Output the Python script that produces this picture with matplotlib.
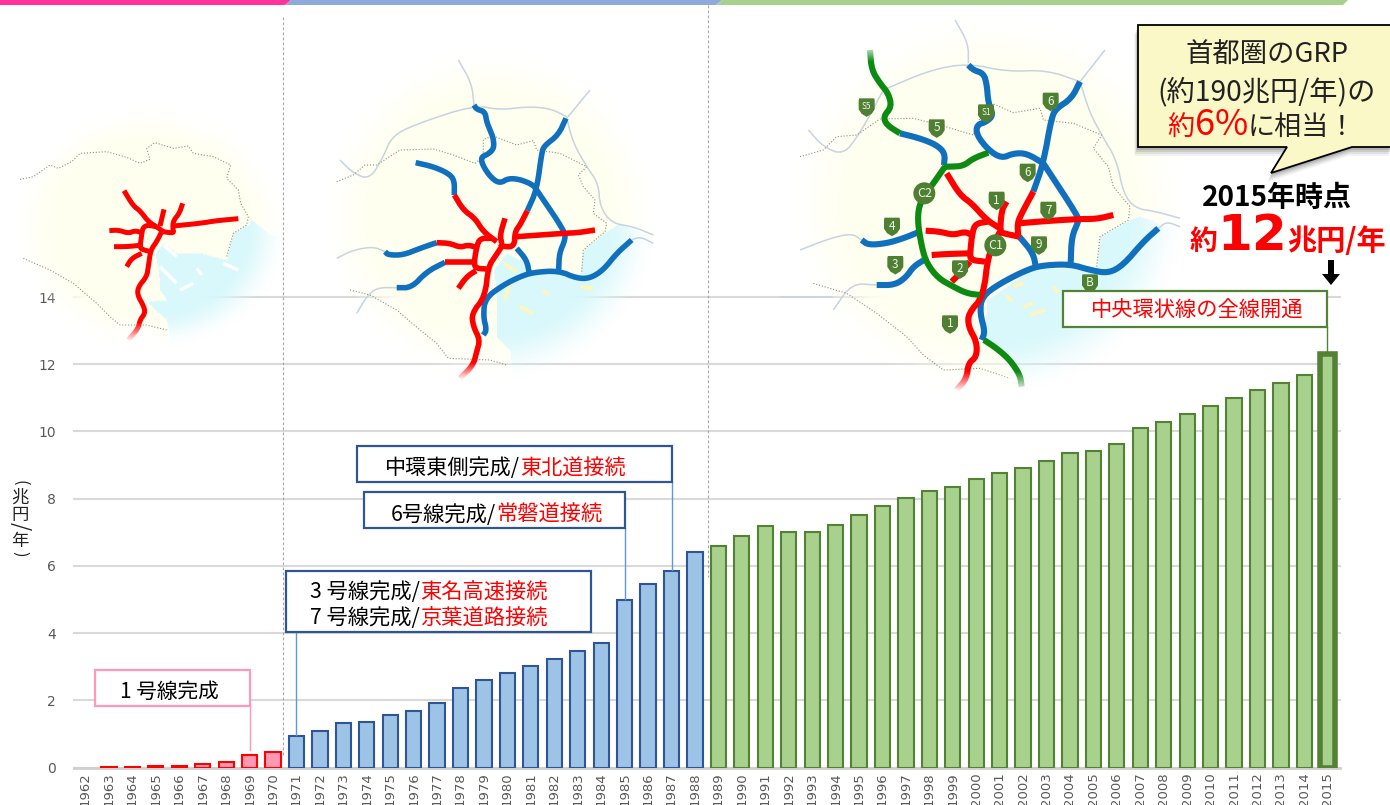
import numpy as np
import matplotlib
matplotlib.use("Agg")
import matplotlib.pyplot as plt
from matplotlib.patches import Polygon, Rectangle, Circle
from matplotlib.path import Path

plt.rcParams['font.family'] = ['Noto Sans CJK JP', 'DejaVu Sans']

# Chart values (trillion yen per year)
years = list(range(1962, 2016))
toll_revenue = [0.00, 0.02, 0.02, 0.03, 0.03, 0.10, 0.16, 0.38, 0.46,
                0.93, 1.10, 1.33, 1.36, 1.55, 1.69, 1.91, 2.38, 2.61, 2.82, 3.01, 3.24, 3.47, 3.69,
                4.98, 5.47, 5.85, 6.42,
                6.58, 6.88, 7.18, 7.02, 7.00, 7.23, 7.50, 7.78, 8.01, 8.23, 8.35, 8.58, 8.76, 8.92,
                9.13, 9.36, 9.41, 9.63, 10.10, 10.28, 10.52, 10.76, 10.98, 11.22, 11.45, 11.68, 12.30]
y_ticks = [0, 2, 4, 6, 8, 10, 12, 14]

PINK_FILL, PINK_EDGE = '#ff99b3', '#ff0000'
BLUE_FILL, BLUE_EDGE = '#9dc3e6', '#2f5597'
GREEN_FILL, GREEN_EDGE = '#a9d18e', '#548235'
RED, BLUE, GREEN = '#ff0000', '#1070bd', '#0c8a12'
ROAD_GREY, BORDER_GREY = '#c6d4e0', '#8f8f80'
LAND, SEA = np.array([1.0, 1.0, 0.945]), np.array([0.85, 0.975, 0.985])

# --- Map 1: first stage network
m1_origin = (0, 120)
m1_red = [
    [(372, 212), (400, 258), (420, 272), (445, 305), (472, 322), (490, 335)],
    [(492, 268), (480, 318)],
    [(548, 250), (538, 280), (520, 302), (518, 325), (522, 340), (490, 335)],
    [(520, 318), (600, 310), (650, 302), (715, 296)],
    [(470, 320), (440, 315), (428, 325), (425, 345), (420, 380), (425, 388), (452, 395)],
    [(485, 335), (470, 365), (452, 390), (445, 440), (440, 470), (415, 500), (412, 525),
     (432, 560), (435, 580), (420, 600), (415, 625), (385, 660)],
    [(328, 332), (355, 330), (385, 340), (405, 332), (425, 338)],
    [(342, 380), (380, 380), (420, 376)],
    [(380, 440), (395, 415), (425, 400)],
]
m1_border = [
    [(60, 178), (100, 170), (150, 135), (175, 145), (215, 125), (240, 100), (320, 95),
     (380, 112), (420, 130), (450, 118), (440, 85), (465, 68), (520, 85), (565, 78),
     (580, 100), (640, 110), (692, 135), (680, 175), (715, 210), (722, 250), (745, 290),
     (740, 315), (700, 340), (690, 375), (680, 410)],
    [(70, 415), (150, 450), (220, 490), (290, 550), (330, 590), (360, 615), (440, 615), (500, 630)],
]
m1_sea = [(755, 300), (810, 345), (880, 360), (880, 700), (520, 700), (500, 600), (440, 545),
          (500, 540), (480, 510), (475, 450), (465, 400), (490, 370), (530, 400), (600, 400),
          (680, 420), (690, 375), (700, 340), (745, 315)]
m1_islands = [[(490, 375), (530, 410)], [(480, 440), (530, 490)], [(540, 510), (580, 490)],
              [(590, 445), (605, 465)], [(670, 430), (715, 450)]]

# --- Map 2: network up to the late 1980s
m2_origin = (320, 50)
m2_blue = [
    [(462, 165), (470, 178), (495, 185), (500, 215), (510, 240), (520, 265), (522, 295),
     (505, 312), (482, 322), (490, 350), (515, 385), (540, 400), (565, 385), (600, 388),
     (640, 405), (650, 420)],
    [(738, 205), (715, 255), (672, 288), (665, 310), (650, 420), (622, 482)],
    [(650, 420), (735, 545), (735, 570), (718, 610), (716, 660)],
    [(287, 338), (340, 350), (385, 370), (403, 390), (403, 435)],
    [(195, 605), (205, 615), (250, 615), (300, 595), (350, 578)],
    [(230, 713), (275, 713), (320, 665), (375, 637)],
    [(490, 855), (500, 840), (490, 800), (495, 745), (550, 705), (600, 680), (640, 667),
     (716, 662), (770, 685), (810, 685), (850, 660), (890, 610), (935, 570)],
    [(590, 595), (620, 630), (628, 670)],
]
m2_red = [
    [(403, 435), (430, 480), (465, 505), (490, 545), (530, 575)],
    [(555, 505), (540, 555), (545, 580)],
    [(622, 482), (600, 525), (585, 545), (583, 590), (550, 590), (540, 580)],
    [(590, 560), (730, 550), (775, 548), (825, 540)],
    [(515, 565), (480, 565), (470, 590), (462, 640), (468, 655), (500, 657)],
    [(545, 590), (525, 620), (505, 650), (495, 740), (455, 790), (460, 830), (480, 870),
     (470, 905), (460, 945), (420, 985)],
    [(350, 578), (390, 580), (420, 592), (445, 585), (468, 592)],
    [(375, 637), (462, 637)],
    [(415, 715), (440, 680), (468, 662)],
]
m2_roads = [
    [(50, 625), (100, 600), (160, 590), (195, 605)],
    [(60, 330), (100, 370), (150, 388), (190, 320), (215, 260), (280, 225), (462, 165),
     (540, 180), (620, 170), (690, 175), (740, 200)],
    [(415, 30), (455, 100), (462, 165)],
    [(740, 205), (810, 120)],
    [(740, 205), (760, 280), (800, 350), (835, 400), (840, 470), (875, 520), (940, 530), (1000, 555)],
    [(935, 570), (960, 560), (1000, 580)],
    [(230, 713), (170, 713), (140, 740), (110, 790)],
]
m2_border = [
    [(50, 395), (100, 375), (135, 345), (170, 345), (240, 300), (340, 297), (400, 315),
     (465, 340), (490, 320), (490, 268), (520, 258), (590, 285), (640, 272), (650, 300),
     (720, 310), (800, 350), (775, 375), (790, 410), (825, 450), (820, 490), (860, 520),
     (855, 545), (790, 600), (785, 670)],
    [(90, 720), (150, 735), (230, 780), (300, 840), (350, 880), (385, 925), (510, 930), (560, 945)],
]
m2_sea = [(860, 545), (900, 520), (1030, 580), (1030, 1000), (580, 1000), (570, 900), (530, 860),
          (530, 720), (520, 660), (560, 610), (600, 630), (640, 670), (780, 670), (790, 600)]
m2_islands = [[(550, 640), (590, 665)], [(570, 700), (555, 750)], [(600, 770), (640, 790)],
              [(670, 720), (685, 735)], [(780, 710), (820, 715)]]

# --- Map 3: network as of 2015
m3_origin = (780, 20)
m3_blue = [
    [(565, 135), (580, 150), (610, 160), (620, 190), (625, 250), (640, 285), (620, 305),
     (590, 315), (590, 345), (625, 390), (665, 415), (700, 400), (740, 400), (790, 430)],
    [(900, 185), (875, 235), (830, 265), (815, 290), (790, 430), (760, 515)],
    [(790, 430), (895, 590), (895, 605), (875, 650), (872, 730)],
    [(360, 340), (420, 355), (470, 375), (495, 400), (492, 435)],
    [(245, 660), (265, 675), (320, 670), (370, 655), (412, 638)],
    [(290, 795), (345, 795), (380, 770), (400, 740), (435, 718)],
    [(605, 960), (615, 935), (600, 880), (605, 830), (660, 790), (750, 745), (800, 735),
     (872, 733), (930, 750), (985, 760), (1030, 735), (1090, 665), (1135, 625)],
    [(718, 650), (760, 700), (768, 745)],
]
m3_green = [
    [(270, 90), (275, 150), (300, 190), (325, 220), (335, 260), (310, 290), (320, 315), (360, 340)],
    [(625, 398), (580, 415), (550, 438), (510, 440), (490, 440)],
    [(495, 440), (460, 490), (420, 545), (412, 600), (425, 680), (440, 730), (475, 775),
     (520, 800), (560, 820), (600, 825)],
    [(612, 960), (650, 985), (690, 1020), (720, 1065), (725, 1100)],
]
m3_red = [
    [(500, 460), (540, 525), (575, 550), (620, 600), (660, 625)],
    [(680, 545), (665, 570), (660, 635), (670, 640), (718, 650)],
    [(760, 515), (725, 580), (712, 610), (715, 650)],
    [(715, 610), (800, 603), (895, 597), (950, 597), (1000, 585)],
    [(625, 605), (590, 610), (578, 630), (570, 700), (572, 720), (615, 725)],
    [(660, 635), (625, 700), (610, 830), (565, 880), (565, 920), (590, 965), (590, 1010),
     (565, 1030), (560, 1075), (530, 1110)],
    [(437, 632), (480, 635), (520, 645), (555, 635), (575, 645)],
    [(455, 705), (500, 702), (570, 700)],
    [(515, 785), (540, 760), (570, 725)],
]
m3_roads = [
    [(525, 0), (565, 70), (565, 130)],
    [(0, 830), (160, 830)],
    [(310, 210), (450, 150), (565, 130), (680, 155), (800, 150), (900, 185)],
    [(900, 185), (975, 90)],
    [(900, 185), (930, 280), (965, 345), (1010, 420), (1030, 520), (1065, 565), (1130, 575), (1200, 595)],
    [(1135, 625), (1160, 605), (1200, 620)],
    [(60, 690), (150, 655), (215, 640), (245, 660)],
    [(85, 330), (130, 380), (190, 405), (240, 340), (310, 210)],
    [(290, 795), (215, 790), (160, 870)],
]
m3_border = [
    [(60, 410), (130, 390), (170, 350), (230, 345), (300, 297), (400, 295), (480, 315),
     (580, 345), (590, 315), (625, 245), (700, 278), (780, 265), (790, 300), (880, 310),
     (965, 345), (940, 385), (985, 440), (1000, 500), (1050, 560), (1045, 600), (960, 650), (950, 740)],
    [(100, 790), (200, 820), (290, 880), (380, 950), (430, 1005), (490, 1050), (600, 1045), (690, 1075)],
]
m3_sea = [(1050, 600), (1080, 590), (1220, 640), (1220, 1120), (730, 1120), (660, 980), (615, 960),
          (620, 840), (760, 745), (950, 745), (960, 650)]
m3_islands = [[(680, 825), (695, 845)], [(730, 860), (760, 850)], [(750, 885), (795, 870)],
              [(820, 800), (835, 820)], [(700, 800), (730, 790)]]
m3_shields = [('S5', 260, 262), ('5', 470, 325), ('S1', 618, 280), ('6', 812, 245), ('6', 743, 458),
              ('1', 650, 542), ('7', 805, 572), ('4', 336, 620), ('3', 346, 735), ('2', 540, 748),
              ('9', 777, 676), ('1', 510, 913), ('B', 930, 790)]
m3_circles = [('C2', 433, 520), ('C1', 646, 676)]


def zoomed(points, origin):
    # route coordinates are stored at 3x, relative to the map origin
    return [(origin[0] + x / 3, origin[1] + y / 3) for x, y in points]


def smooth(points, passes=2):
    # Chaikin corner cutting, keeps both end points
    pts = np.array(points, dtype=float)
    for _ in range(passes):
        q = pts[:-1] * 0.75 + pts[1:] * 0.25
        r = pts[:-1] * 0.25 + pts[1:] * 0.75
        mid = np.empty((len(q) * 2, 2))
        mid[0::2] = q
        mid[1::2] = r
        pts = np.vstack([pts[:1], mid, pts[-1:]])
    return pts


def draw_routes(ax, routes, origin, color, lw, z=4):
    for route in routes:
        pts = smooth(zoomed(route, origin))
        ax.plot(pts[:, 0], pts[:, 1], color=color, lw=lw, solid_capstyle='butt',
                solid_joinstyle='round', zorder=z)


def draw_backdrop(ax, cx, cy, rx, ry, sea, origin):
    # pale land with soft edge, sea polygon cut in
    xs = np.arange(cx - rx, cx + rx, 1.0)
    ys = np.arange(cy - ry, cy + ry, 1.0)
    gx, gy = np.meshgrid(xs, ys)
    r = np.sqrt(((gx - cx) / rx) ** 2 + ((gy - cy) / ry) ** 2)
    alpha = np.clip((1 - r) / 0.32, 0, 1)
    alpha = alpha * alpha * (3 - 2 * alpha)
    inside = Path(zoomed(sea, origin)).contains_points(np.c_[gx.ravel(), gy.ravel()]).reshape(gx.shape)
    rgba = np.zeros(gx.shape + (4,))
    rgba[..., :3] = LAND
    rgba[inside, :3] = SEA
    rgba[..., 3] = alpha
    ax.imshow(rgba, extent=(xs[0], xs[-1] + 1, ys[-1] + 1, ys[0]), aspect='auto',
              interpolation='bilinear', zorder=2)


def tip_fade(ax, x0, x1, y0, y1):
    # white ramp over the road ends at the map edge; y0 is transparent, y1 is opaque
    n = 32
    rgba = np.ones((n, 2, 4))
    rgba[..., 3] = np.linspace(0, 1, n)[:, None]
    ax.imshow(rgba, extent=(x0, x1, y1, y0), aspect='auto', interpolation='bilinear', zorder=5)


def run_text(ax, x, y, parts, fig, center=False):
    # consecutive pieces on one baseline, each with its own colour, size, weight and family
    renderer = fig.canvas.get_renderer()
    items = []
    width = 0
    for part in parts:
        s, color, size = part[:3]
        weight = part[3] if len(part) > 3 else 'normal'
        family = part[4] if len(part) > 4 else plt.rcParams['font.family']
        t = ax.text(x, y, s, color=color, fontsize=size, fontweight=weight, family=family,
                    va='baseline', ha='left', zorder=12)
        w = t.get_window_extent(renderer).width
        items.append((t, width))
        width += w
    start = x - width / 2 if center else x
    for t, off in items:
        t.set_x(start + off)


def label_box(ax, x0, y0, x1, y1, edge, lw=1.6):
    ax.add_patch(Rectangle((x0, y0), x1 - x0, y1 - y0, facecolor='white', edgecolor=edge,
                           lw=lw, zorder=10))


fig = plt.figure(figsize=(13.9, 8.05), dpi=100)

# --- Bar chart, placed so that 0 and 14 land on their grid rows
ax = fig.add_axes([74 / 1390, (805 - 767.5) / 805, 1266 / 1390, 470.5 / 805])
fills = [PINK_FILL] * 9 + [BLUE_FILL] * 18 + [GREEN_FILL] * 27
edges = [PINK_EDGE] * 9 + [BLUE_EDGE] * 18 + [GREEN_EDGE] * 27
widths = [0] + [1.5] * 52 + [4.0]
ax.bar(years, toll_revenue, width=0.65, color=fills, edgecolor=edges, linewidth=widths, zorder=3)
ax.set_xlim(1961.51, 2015.52)
ax.set_ylim(0, 14)
ax.set_yticks(y_ticks)
ax.set_xticks(years)
ax.set_xticklabels([str(y) for y in years], rotation=90, color='#595959', fontsize=9.5,
                   family='DejaVu Sans')
for tick in ax.get_yticklabels():
    tick.set_family('DejaVu Sans')
ax.tick_params(axis='both', length=0)
ax.tick_params(axis='x', pad=3.5)
ax.tick_params(axis='y', labelcolor='#595959', labelsize=10, pad=13)
ax.grid(axis='y', color='#d9d9d9', lw=1.5, zorder=0, clip_on=False)
for name in ['top', 'right', 'left']:
    ax.spines[name].set_visible(False)
ax.spines['bottom'].set_color('#d0d0d0')
ax.spines['bottom'].set_linewidth(2)

# --- Everything else is laid out in pixel coordinates on a transparent overlay
ov = fig.add_axes([0, 0, 1, 1], zorder=5)
ov.patch.set_alpha(0)
ov.axis('off')

# period bands along the top edge
ov.add_patch(Polygon([(0, 0), (291, 0), (285, 5), (0, 5)], color='#ff3399', lw=0))
ov.add_patch(Polygon([(285, 5), (291, 0), (722, 0), (716, 5)], color='#8eaadb', lw=0))
ov.add_patch(Polygon([(716, 5), (722, 0), (1348, 0), (1343, 5)], color='#a9d18e', lw=0))

# period separators
ov.plot([283, 283], [17, 757], color='#a6a6a6', lw=0.8, ls=(0, (2.5, 2)), zorder=1)
ov.plot([708, 708], [5, 577], color='#a6a6a6', lw=0.8, ls=(0, (2.5, 2)), zorder=1)

# map 1
draw_backdrop(ov, 150, 228, 137, 122, m1_sea, m1_origin)
for b in m1_border:
    p = zoomed(b, m1_origin)
    ov.plot(*zip(*p), color=BORDER_GREY, lw=0.8, ls=':', zorder=3)
draw_routes(ov, m1_islands, m1_origin, 'white', 2.5, z=3)
draw_routes(ov, m1_red, m1_origin, RED, 3.6)
tip_fade(ov, 118, 150, 322, 342)

# map 2
draw_backdrop(ov, 490, 215, 168, 168, m2_sea, m2_origin)
draw_routes(ov, m2_roads, m2_origin, ROAD_GREY, 1.1, z=3)
for b in m2_border:
    p = zoomed(b, m2_origin)
    ov.plot(*zip(*p), color=BORDER_GREY, lw=0.8, ls=':', zorder=3)
draw_routes(ov, m2_islands, m2_origin, '#fbf7c4', 3, z=3)
draw_routes(ov, m2_blue, m2_origin, BLUE, 4)
draw_routes(ov, m2_red, m2_origin, RED, 4, z=5)
tip_fade(ov, 452, 490, 362, 380)

# map 3
draw_backdrop(ov, 988, 205, 200, 192, m3_sea, m3_origin)
draw_routes(ov, m3_roads, m3_origin, ROAD_GREY, 1.1, z=3)
for b in m3_border:
    p = zoomed(b, m3_origin)
    ov.plot(*zip(*p), color=BORDER_GREY, lw=0.8, ls=':', zorder=3)
draw_routes(ov, m3_islands, m3_origin, '#fbf7c4', 3, z=3)
draw_routes(ov, m3_blue, m3_origin, BLUE, 4.4)
draw_routes(ov, m3_red, m3_origin, RED, 4.4, z=5)
draw_routes(ov, m3_green, m3_origin, GREEN, 4.4, z=5)
tip_fade(ov, 945, 1030, 372, 392)
tip_fade(ov, 860, 880, 62, 44)

SHIELD = [(-7.5, -9), (7.5, -9), (8, -7), (8, 2), (5, 6.5), (0, 9.5), (-5, 6.5), (-8, 2), (-8, -7)]
for label, zx, zy in m3_shields:
    px, py = zoomed([(zx, zy)], m3_origin)[0]
    ov.add_patch(Polygon([(px + a, py + b) for a, b in SHIELD], color='#4f7f32', lw=0, zorder=6))
    ov.text(px, py - 0.5, label, color='#eef5e8', fontsize=6 if len(label) > 1 else 8.5,
            ha='center', va='center', zorder=7)
for label, zx, zy in m3_circles:
    px, py = zoomed([(zx, zy)], m3_origin)[0]
    ov.add_patch(Circle((px, py), 11, color='#4f7f32', lw=0, zorder=6))
    ov.text(px, py, label, color='#eef5e8', fontsize=9, ha='center', va='center', zorder=7)

# y axis title, set vertically one glyph at a time
for ch, yp, rot, size in [('(', 483, 270, 12), ('兆', 498, 0, 12.5), ('円', 515, 0, 12.5),
                          ('/', 526, 270, 15), ('年', 541, 0, 12.5), (')', 554, 270, 12)]:
    ov.text(20, yp, ch, fontsize=size, ha='center', va='center', rotation=rot, color='#222222')

# milestone leader lines
ov.plot([250, 250], [706, 750], color='#ff99bb', lw=1, zorder=8)
ov.plot([296, 296], [632, 735], color='#5b9bd5', lw=1, zorder=8)
ov.plot([625, 625], [528, 599], color='#5b9bd5', lw=1, zorder=8)
ov.plot([672, 672], [482, 570], color='#5b9bd5', lw=1, zorder=8)
ov.plot([1327, 1327], [327, 352], color=GREEN_EDGE, lw=1, zorder=8)

# milestone boxes
label_box(ov, 95, 670, 250, 706, '#ff99bb')
run_text(ov, 120, 698, [('1 号線完成', 'black', 14.9)], fig)

label_box(ov, 286, 571, 591, 632, BLUE_EDGE)
run_text(ov, 310, 598, [('3 号線完成/', 'black', 15.3), ('東名高速接続', RED, 15.3)], fig)
run_text(ov, 310, 624, [('7 号線完成/', 'black', 15.3), ('京葉道路接続', RED, 15.3)], fig)

label_box(ov, 364, 492, 625, 528, BLUE_EDGE)
run_text(ov, 391, 520.5, [('6号線完成/', 'black', 15.3), ('常磐道接続', RED, 15.3)], fig)

label_box(ov, 357, 446, 672, 482, BLUE_EDGE)
run_text(ov, 385, 473.5, [('中環東側完成/', 'black', 15.2), ('東北道接続', RED, 15.2)], fig)

label_box(ov, 1063, 291, 1327, 327, GREEN_EDGE)
run_text(ov, 1197, 317, [('中央環状線の全線開通', RED, 15.3)], fig, center=True)

# callout with its shadow
bubble = [(1138, 25), (1392, 25), (1392, 147), (1352, 147), (1271, 173), (1287, 147), (1138, 147)]
for off, a in [(9, 0.05), (7, 0.07), (5, 0.09), (3, 0.12)]:
    ov.add_patch(Polygon([(x - off * 0.4, y + off) for x, y in bubble], facecolor='black', alpha=a,
                         lw=0, zorder=8))
ov.add_patch(Polygon(bubble, facecolor='#fbf8c8', edgecolor='black', lw=1.3, zorder=9))
run_text(ov, 1267, 63, [('首都圏のGRP', '#222222', 19.7)], fig, center=True)
run_text(ov, 1267, 100, [('(約190兆円/年)の', '#222222', 20.3)], fig, center=True)
run_text(ov, 1262, 135, [('約', RED, 19.5), ('6%', RED, 26), ('に相当！', '#222222', 19.5)], fig, center=True)

# headline figure
run_text(ov, 1277, 206, [('2015年時点', 'black', 20.2, 'bold')], fig, center=True)
run_text(ov, 1288, 250, [('約', RED, 20, 'bold'), ('12', RED, 36, 'bold', 'DejaVu Sans'),
                         ('兆円/年', RED, 21, 'bold')], fig, center=True)
ov.add_patch(Polygon([(1328, 260), (1334, 260), (1334, 274), (1340, 274), (1331, 285), (1322, 274), (1328, 274)],
                     color='black', lw=0, zorder=12))

ov.set_xlim(0, 1390)
ov.set_ylim(805, 0)

fig.savefig('out.png', dpi=100)
